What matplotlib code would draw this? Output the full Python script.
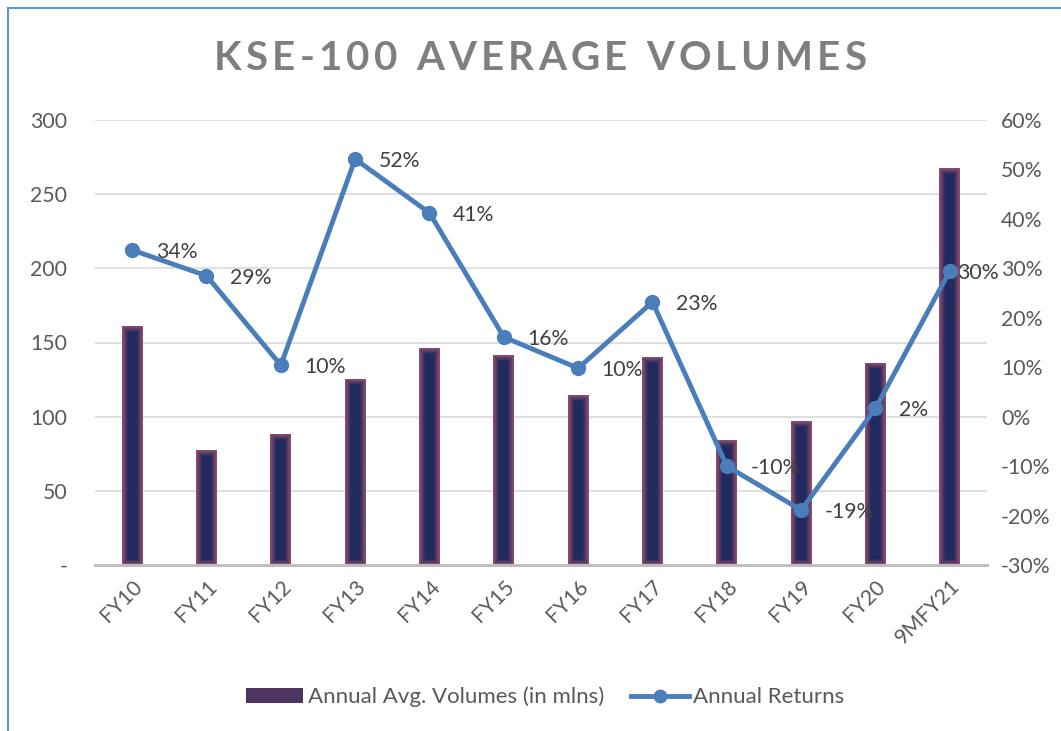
import numpy as np
import matplotlib
matplotlib.use("Agg")
import matplotlib.pyplot as plt
from matplotlib.lines import Line2D
import matplotlib.patches as mpatches
from matplotlib.colors import LinearSegmentedColormap

# ── data ──────────────────────────────────────────────────────────────────────
CATEGORIES = ["FY10", "FY11", "FY12", "FY13", "FY14", "FY15",
              "FY16", "FY17", "FY18", "FY19", "FY20", "9MFY21"]
VOLUMES = [161, 77.5, 88, 125, 146, 141, 114, 140, 84, 97, 136, 267]
RETURNS = [33.7, 28.5, 10.4, 52.1, 41.2, 16.1, 9.8, 23.2, -10.0, -18.9, 1.7, 29.5]
RET_LABELS = ["34%", "29%", "10%", "52%", "41%", "16%",
              "10%", "23%", "-10%", "-19%", "2%", "30%"]

VOL_TICKS = [0, 50, 100, 150, 200, 250, 300]
VOL_TICK_LABELS = ["-", "50", "100", "150", "200", "250", "300"]
RET_TICKS = [-30, -20, -10, 0, 10, 20, 30, 40, 50, 60]
TITLE = "KSE-100 AVERAGE VOLUMES"

# ── style ─────────────────────────────────────────────────────────────────────
FONT = ["Lato", "DejaVu Sans"]
NAVY = "#212a5e"
MAROON = "#98506f"
LINE_BLUE = "#4a7ebb"
TICK_GRAY = "#595959"
LABEL_GRAY = "#404040"
GRID = "#d9d9d9"
FS = 15.3

plt.rcParams["font.family"] = FONT

W, H = 1061, 731
fig = plt.figure(figsize=(W / 100, H / 100), dpi=100)
ax = fig.add_axes([95 / W, 1 - 565 / H, 892 / W, 445 / H])
ax2 = ax.twinx()

x = np.arange(len(CATEGORIES))
bar_w = 0.28

# bars with rim-to-centre gradient (maroon rim, navy core)
bars = ax.bar(x, VOLUMES, width=bar_w, color=NAVY, edgecolor="none", zorder=2)
cmap = LinearSegmentedColormap.from_list("rim", [MAROON, NAVY])
px_per_unit_y = 445 / 300
px_per_unit_x = 892 / len(CATEGORIES)
for b in bars:
    nx = max(int(b.get_width() * px_per_unit_x), 2)
    ny = max(int(b.get_height() * px_per_unit_y), 2)
    xx = np.arange(nx) + 0.5
    yy = np.arange(ny) + 0.5
    dx = np.minimum(xx, nx - xx)[None, :]
    dy = np.minimum(yy, ny - yy)[:, None]
    d = np.minimum(np.minimum(dx, dy), 6) / 6
    ax.imshow(d, cmap=cmap, vmin=0, vmax=1, aspect="auto",
              extent=(b.get_x(), b.get_x() + b.get_width(), 0, b.get_height()),
              interpolation="bilinear", zorder=2.1, clip_path=b, clip_on=True)

ax.set_xlim(-0.5, len(CATEGORIES) - 0.5)
ax.set_ylim(0, 300)
ax.set_yticks(VOL_TICKS)
ax.set_yticklabels(VOL_TICK_LABELS)
ax.set_xticks(x)
ax.set_xticklabels(CATEGORIES, rotation=45, ha="right", rotation_mode="anchor")
ax.grid(axis="y", color=GRID, linewidth=1.2, zorder=0)
ax.set_axisbelow(True)
for s in ["top", "right", "left"]:
    ax.spines[s].set_visible(False)
ax.spines["bottom"].set_color("#bfbfbf")
ax.spines["bottom"].set_linewidth(2.2)
ax.tick_params(axis="both", length=0, labelsize=FS, colors=TICK_GRAY)
ax.tick_params(axis="y", pad=20)
ax.tick_params(axis="x", pad=8)

# returns line
ax2.plot(x, RETURNS, color=LINE_BLUE, linewidth=3.5, marker="o",
         markersize=10, zorder=3, solid_capstyle="round")
for i, (xi, yi, lab) in enumerate(zip(x, RETURNS, RET_LABELS)):
    dx_pt = 17 if i < len(x) - 1 else 5   # last label pushed back inside chart area
    ax2.annotate(lab, (xi, yi), xytext=(dx_pt, -1.5), textcoords="offset points",
                 ha="left", va="center", fontsize=FS, color=LABEL_GRAY)
ax2.set_ylim(-30, 60)
ax2.set_yticks(RET_TICKS)
ax2.set_yticklabels([f"{t}%" for t in RET_TICKS])
for s in ax2.spines.values():
    s.set_visible(False)
ax2.tick_params(axis="y", length=0, labelsize=FS, colors=TICK_GRAY, pad=10)
ax.set_zorder(ax2.get_zorder() - 1)
ax.patch.set_visible(False)

# title with letter spacing (drawn char by char)
renderer = fig.canvas.get_renderer()
title_kw = dict(fontsize=29, fontweight="bold", color="#7f7f7f", va="center", ha="left")
probe = fig.text(0, 0, TITLE, **title_kw)
natural = probe.get_window_extent(renderer).width
probe.remove()
target_w = 653
track = (target_w - natural) / (len(TITLE) - 1)
x0 = 540 - target_w / 2
for i, ch in enumerate(TITLE):
    if ch == " ":
        continue
    if i:
        p = fig.text(0, 0, TITLE[:i], **title_kw)
        off = p.get_window_extent(renderer).width
        p.remove()
    else:
        off = 0
    fig.text((x0 + off + track * i) / W, 1 - 58 / H, ch, **title_kw)

# legend
handles = [
    mpatches.Patch(facecolor="#4e3462", edgecolor="none"),
    Line2D([0], [0], color=LINE_BLUE, linewidth=3.5, marker="o", markersize=9),
]
fig.legend(handles, ["Annual Avg. Volumes (in mlns)", "Annual Returns"],
           loc="center", bbox_to_anchor=(545 / W, 1 - 697 / H), ncol=2,
           frameon=False, fontsize=16, handlelength=2.6, handletextpad=0.2,
           columnspacing=1.2, labelcolor=TICK_GRAY)

# partial chart frame (left and top)
fig.add_artist(Line2D([8 / W, 1], [1 - 8 / H, 1 - 8 / H], color="#5b9bd5",
                      linewidth=1.5, transform=fig.transFigure))
fig.add_artist(Line2D([8 / W, 8 / W], [0, 1 - 8 / H], color="#5b9bd5",
                      linewidth=1.5, transform=fig.transFigure))

fig.savefig("out.png", dpi=100)
